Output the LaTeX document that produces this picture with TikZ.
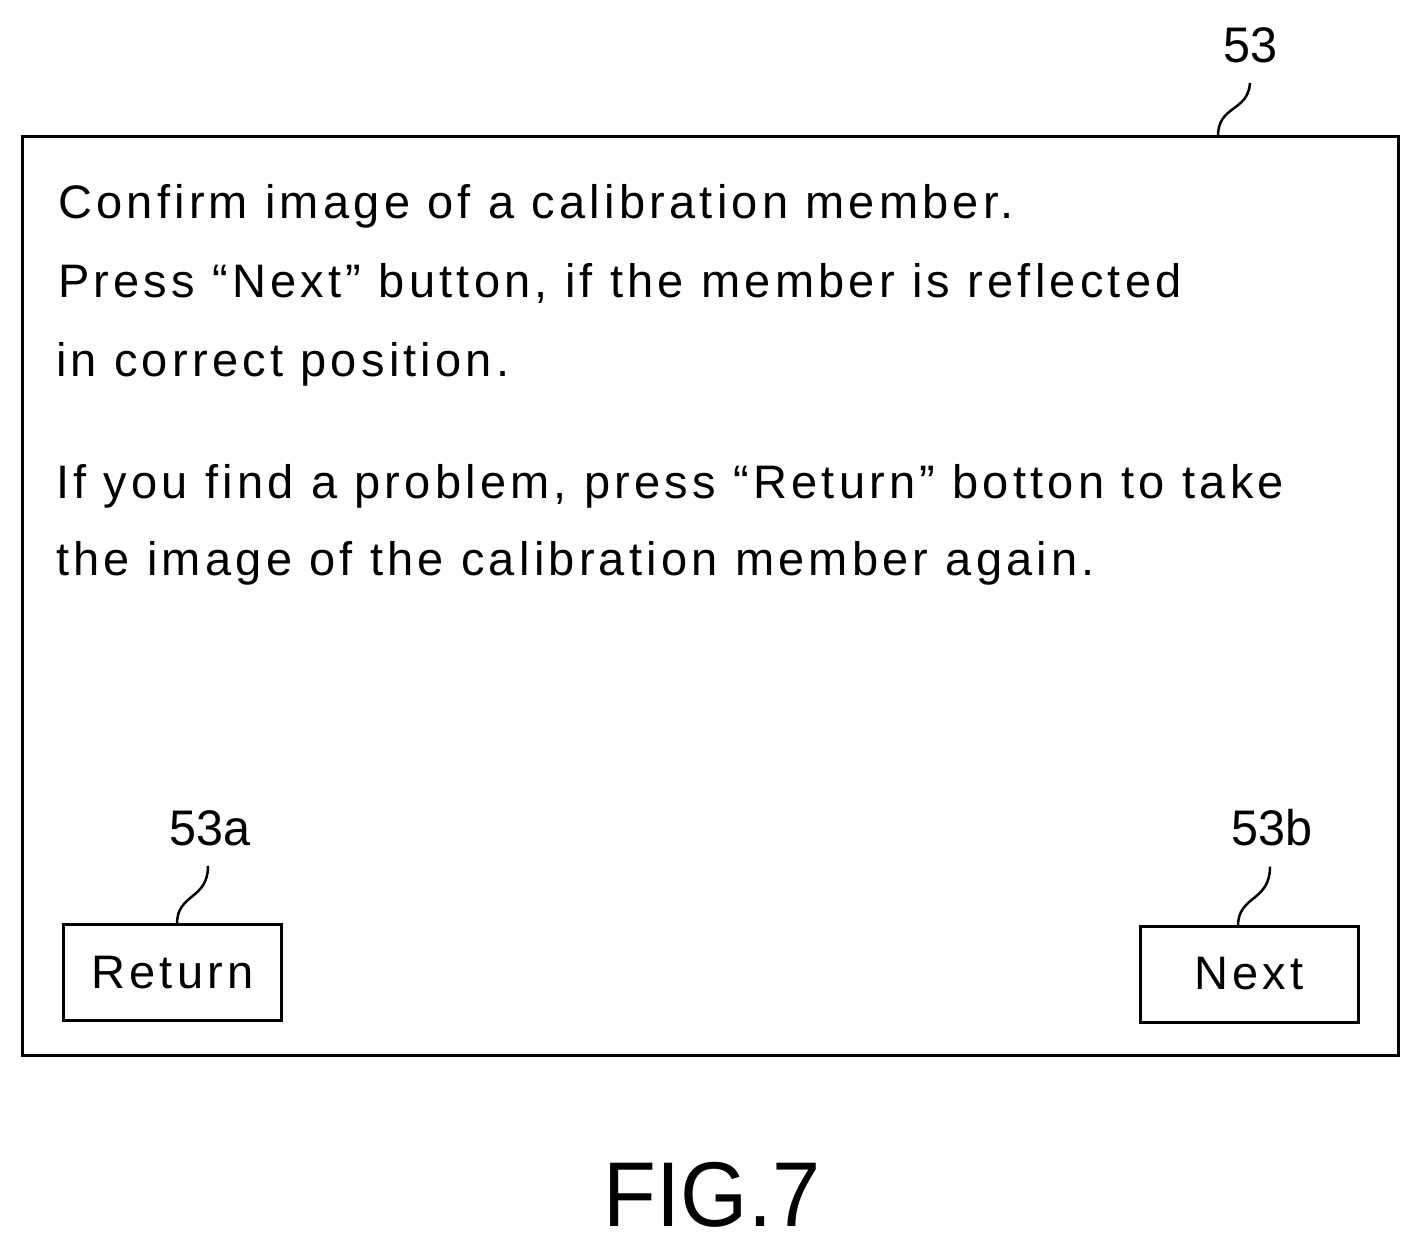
\documentclass[tikz,border=0pt]{standalone}
\usepackage{fontspec}
\setmainfont{Liberation Sans}
\newfontfamily\spaced[LetterSpace=9]{Liberation Sans}
\begin{document}
\begin{tikzpicture}[x=1pt,y=-1pt,
  frame/.style={draw,line width=3pt},
  btn/.style={draw,line width=3pt,minimum width=218pt,minimum height=96pt,inner sep=0pt,font=\spaced\fontsize{47}{47}\selectfont},
  body/.style={anchor=base west,inner sep=0pt,font=\spaced\fontsize{47}{47}\selectfont},
  refl/.style={inner sep=0pt,font=\fontsize{50}{50}\selectfont,xscale=0.97},
  lead/.style={line width=2.5pt}]
\useasboundingbox (0,0) rectangle (1420,1247);
\node[frame,minimum width=1376pt,minimum height=919pt,inner sep=0pt] (screen) at (710,595.5) {};
\node[body] (l1) at (58,218) {Confirm image of a calibration member.};
\node[body] (l2) at (58,297) {Press “Next” button, if the member is reflected};
\node[body] (l3) at (56,376) {in correct position.};
\node[body] (l4) at (56,498) {If you find a problem, press “Return” botton to take};
\node[body] (l5) at (56,575) {the image of the calibration member again.};
\node[btn] (ret) at (172.5,972.5) {Return};
\node[btn] (nxt) at (1249,974) {Next};
\node[refl] (r53) at (1250,45) {53};
\node[refl] (r53a) at (210,828) {53a};
\node[refl] (r53b) at (1272,828) {53b};
\coordinate (c53) at (1218,136);
\coordinate (c53a) at (177,924);
\coordinate (c53b) at (1238,926);
\draw[lead] (c53) .. controls (1218,105) and (1248,112) .. ([yshift=-20pt]r53.south);
\draw[lead] (c53a) .. controls (177,893) and (208,900) .. ([xshift=-2pt,yshift=-20pt]r53a.south);
\draw[lead] (c53b) .. controls (1238,895) and (1270,902) .. ([xshift=-2pt,yshift=-20pt]r53b.south);
\node[inner sep=0pt,font=\fontsize{92}{92}\selectfont,xscale=0.94] (fig) at (712,1195) {FIG.7};
\end{tikzpicture}
\end{document}
